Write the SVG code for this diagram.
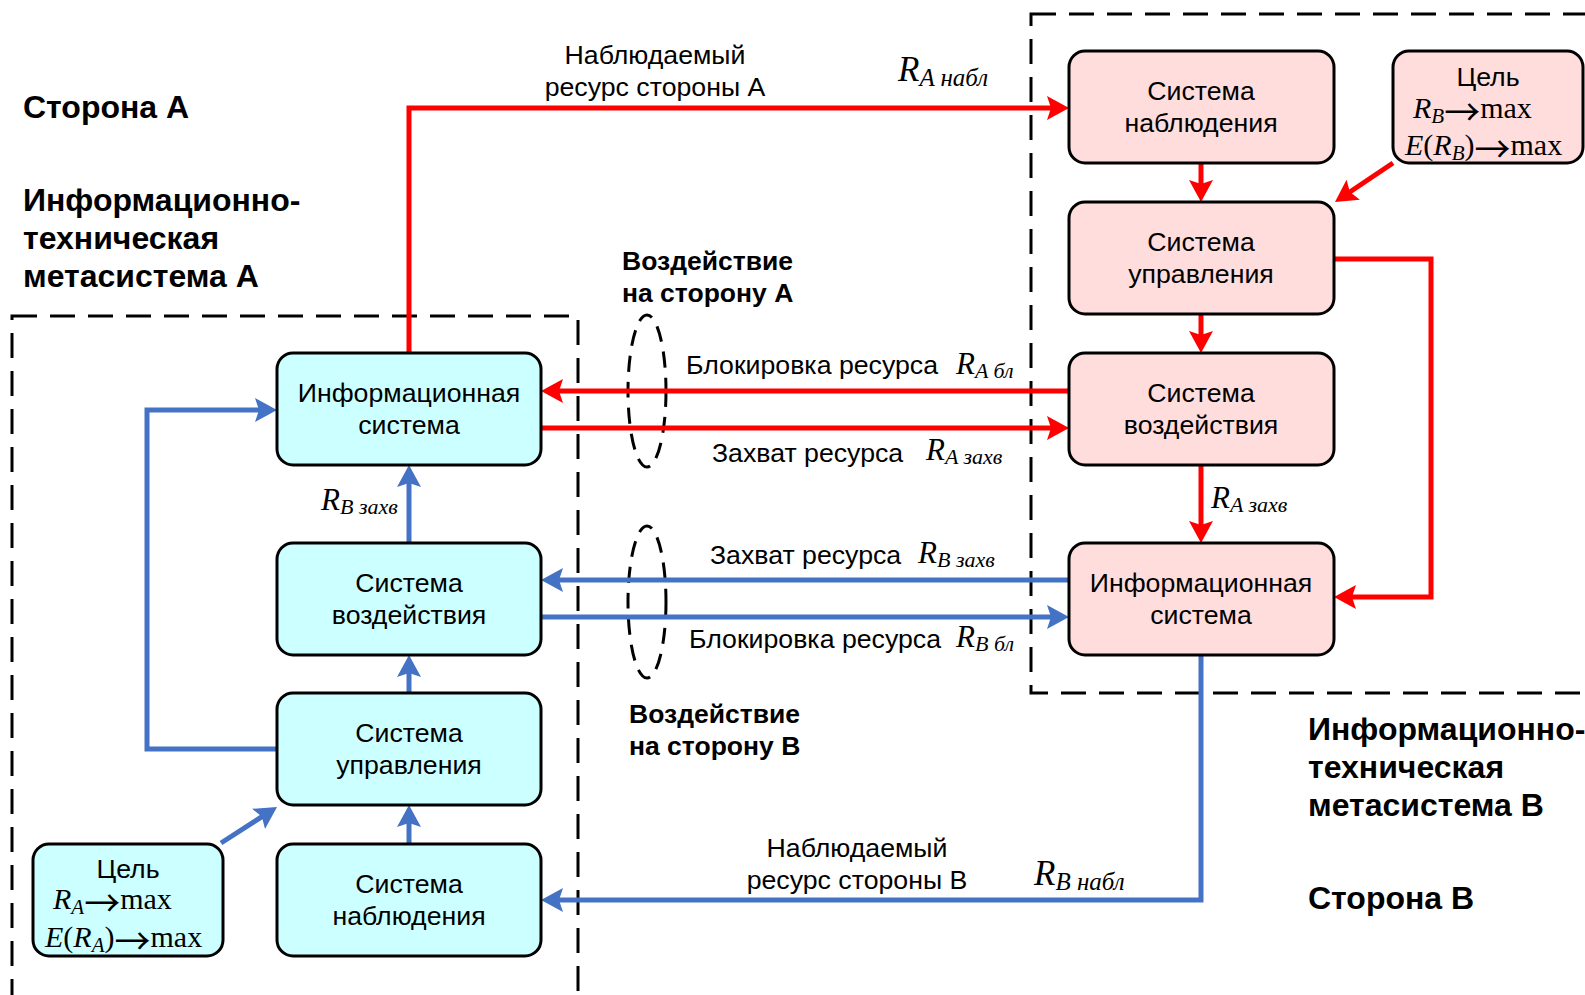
<svg xmlns="http://www.w3.org/2000/svg" width="1585" height="995" viewBox="0 0 1585 995">
<style>
.bg{fill:#ffffff}
.frame{fill:none;stroke:#000;stroke-width:3;stroke-dasharray:25 13}
.ell{fill:none;stroke:#000;stroke-width:3;stroke-dasharray:16 10}
.nA{fill:#CCFFFF;stroke:#000;stroke-width:3}
.nB{fill:#FFDDDD;stroke:#000;stroke-width:3}
.t{font-family:"Liberation Sans",Arial,sans-serif;font-size:26.7px;fill:#000}
.c{text-anchor:middle}
.b{font-family:"Liberation Sans",Arial,sans-serif;font-weight:bold;fill:#000}
.h1{font-size:32px}
.h2{font-size:26.5px}
.m{font-family:"Liberation Serif","Times New Roman",serif;font-style:italic;font-size:31px;fill:#000}
.s{font-size:22px}
.mb{font-size:35px}
.sb{font-size:25px}
.g{font-family:"Liberation Serif","Times New Roman",serif;font-size:30px;fill:#000}
.arw{font-family:"Noto Sans CJK JP","Noto Sans CJK SC",sans-serif;font-size:36px;font-style:normal}
.red{fill:none;stroke:#FF0000;stroke-width:5}
.blue{fill:none;stroke:#4472C4;stroke-width:5}
</style>
<defs>
<marker id="ar" viewBox="0 0 22 24" refX="14" refY="12" markerWidth="22" markerHeight="24" orient="auto" markerUnits="userSpaceOnUse"><path d="M0,0 L22,12 L0,24 L4,12 z" fill="#FF0000"/></marker>
<marker id="ab" viewBox="0 0 22 24" refX="14" refY="12" markerWidth="22" markerHeight="24" orient="auto" markerUnits="userSpaceOnUse"><path d="M0,0 L22,12 L0,24 L4,12 z" fill="#4472C4"/></marker>
</defs>
<rect class="bg" x="0" y="0" width="1585" height="995"/>

<g id="frames">
<rect class="frame" x="12" y="316" width="566" height="690"/>
<rect class="frame" x="1031" y="14" width="600" height="679"/>
</g>

<g id="titles">
<text class="b h1" x="23" y="118">Сторона А</text>
<text class="b h1" x="23" y="211">Информационно-</text>
<text class="b h1" x="23" y="249">техническая</text>
<text class="b h1" x="23" y="287">метасистема А</text>
<text class="b h1" x="1308" y="740">Информационно-</text>
<text class="b h1" x="1308" y="778">техническая</text>
<text class="b h1" x="1308" y="816">метасистема В</text>
<text class="b h1" x="1308" y="909">Сторона В</text>
<text class="b h2" x="622" y="270">Воздействие</text>
<text class="b h2" x="622" y="302">на сторону А</text>
<text class="b h2" x="629" y="723">Воздействие</text>
<text class="b h2" x="629" y="755">на сторону В</text>
</g>

<g id="ellipses">
<ellipse class="ell" cx="647" cy="391" rx="19" ry="76"/>
<ellipse class="ell" cx="647" cy="602" rx="19" ry="76"/>
</g>

<g id="connectors">
<path class="red" d="M409,353 V108 H1061" marker-end="url(#ar)"/>
<path class="red" d="M1201,163 V194" marker-end="url(#ar)"/>
<path class="red" d="M1393,163 L1341.6,197.5" marker-end="url(#ar)"/>
<path class="red" d="M1201,314 V345" marker-end="url(#ar)"/>
<path class="red" d="M1334,259 H1431 V597 H1342" marker-end="url(#ar)"/>
<path class="red" d="M1069,391 H549" marker-end="url(#ar)"/>
<path class="red" d="M541,428 H1061" marker-end="url(#ar)"/>
<path class="red" d="M1201,465 V535" marker-end="url(#ar)"/>
<path class="blue" d="M1069,580 H549" marker-end="url(#ab)"/>
<path class="blue" d="M541,617 H1061" marker-end="url(#ab)"/>
<path class="blue" d="M1201,655 V900 H549" marker-end="url(#ab)"/>
<path class="blue" d="M409,844 V813" marker-end="url(#ab)"/>
<path class="blue" d="M409,693 V663" marker-end="url(#ab)"/>
<path class="blue" d="M409,543 V473" marker-end="url(#ab)"/>
<path class="blue" d="M277,749 H147 V410 H269" marker-end="url(#ab)"/>
<path class="blue" d="M221,843 L270.3,811.3" marker-end="url(#ab)"/>
</g>

<g id="edge-labels">
<text class="t c" x="655" y="64">Наблюдаемый</text>
<text class="t c" x="655" y="96">ресурс стороны А</text>
<text class="m mb" x="898" y="81">R<tspan class="sb" dy="5">A набл</tspan></text>
<text class="t" x="686" y="374">Блокировка ресурса</text>
<text class="m" x="956" y="374">R<tspan class="s" dy="4">A бл</tspan></text>
<text class="t" x="712" y="462">Захват ресурса</text>
<text class="m" x="926" y="460">R<tspan class="s" dy="4">A захв</tspan></text>
<text class="m" x="321" y="510">R<tspan class="s" dy="4">B захв</tspan></text>
<text class="m" x="1211" y="508">R<tspan class="s" dy="4">A захв</tspan></text>
<text class="t" x="710" y="564">Захват ресурса</text>
<text class="m" x="918" y="563">R<tspan class="s" dy="4">B захв</tspan></text>
<text class="t" x="689" y="648">Блокировка ресурса</text>
<text class="m" x="956" y="647">R<tspan class="s" dy="4">B бл</tspan></text>
<text class="t c" x="857" y="857">Наблюдаемый</text>
<text class="t c" x="857" y="889">ресурс стороны В</text>
<text class="m mb" x="1034" y="885">R<tspan class="sb" dy="5">B набл</tspan></text>
</g>

<g id="A-info"><rect class="nA" x="277" y="353" width="264" height="112" rx="16"/><text class="t c" x="409" y="402">Информационная</text><text class="t c" x="409" y="434">система</text></g>
<g id="A-vozd"><rect class="nA" x="277" y="543" width="264" height="112" rx="16"/><text class="t c" x="409" y="592">Система</text><text class="t c" x="409" y="624">воздействия</text></g>
<g id="A-upr"><rect class="nA" x="277" y="693" width="264" height="112" rx="16"/><text class="t c" x="409" y="742">Система</text><text class="t c" x="409" y="774">управления</text></g>
<g id="A-nabl"><rect class="nA" x="277" y="844" width="264" height="112" rx="16"/><text class="t c" x="409" y="893">Система</text><text class="t c" x="409" y="925">наблюдения</text></g>
<g id="A-goal"><rect class="nA" x="33" y="844" width="190" height="112" rx="16"/><text class="t c" x="128" y="878">Цель</text><text class="g" x="53" y="909"><tspan font-style="italic">R</tspan><tspan font-style="italic" font-size="21" dy="5">A</tspan><tspan class="arw" dy="3">→</tspan><tspan dy="-8">max</tspan></text><text class="g" x="45" y="947"><tspan font-style="italic">E</tspan>(<tspan font-style="italic">R</tspan><tspan font-style="italic" font-size="21" dy="5">A</tspan><tspan dy="-5">)</tspan><tspan class="arw" dy="8">→</tspan><tspan dy="-8">max</tspan></text></g>

<g id="B-nabl"><rect class="nB" x="1069" y="51" width="265" height="112" rx="16"/><text class="t c" x="1201" y="100">Система</text><text class="t c" x="1201" y="132">наблюдения</text></g>
<g id="B-upr"><rect class="nB" x="1069" y="202" width="265" height="112" rx="16"/><text class="t c" x="1201" y="251">Система</text><text class="t c" x="1201" y="283">управления</text></g>
<g id="B-vozd"><rect class="nB" x="1069" y="353" width="265" height="112" rx="16"/><text class="t c" x="1201" y="402">Система</text><text class="t c" x="1201" y="434">воздействия</text></g>
<g id="B-info"><rect class="nB" x="1069" y="543" width="265" height="112" rx="16"/><text class="t c" x="1201" y="592">Информационная</text><text class="t c" x="1201" y="624">система</text></g>
<g id="B-goal"><rect class="nB" x="1393" y="51" width="190" height="112" rx="16"/><text class="t c" x="1488" y="86">Цель</text><text class="g" x="1413" y="118"><tspan font-style="italic">R</tspan><tspan font-style="italic" font-size="21" dy="5">B</tspan><tspan class="arw" dy="3">→</tspan><tspan dy="-8">max</tspan></text><text class="g" x="1405" y="155"><tspan font-style="italic">E</tspan>(<tspan font-style="italic">R</tspan><tspan font-style="italic" font-size="21" dy="5">B</tspan><tspan dy="-5">)</tspan><tspan class="arw" dy="8">→</tspan><tspan dy="-8">max</tspan></text></g>
</svg>
